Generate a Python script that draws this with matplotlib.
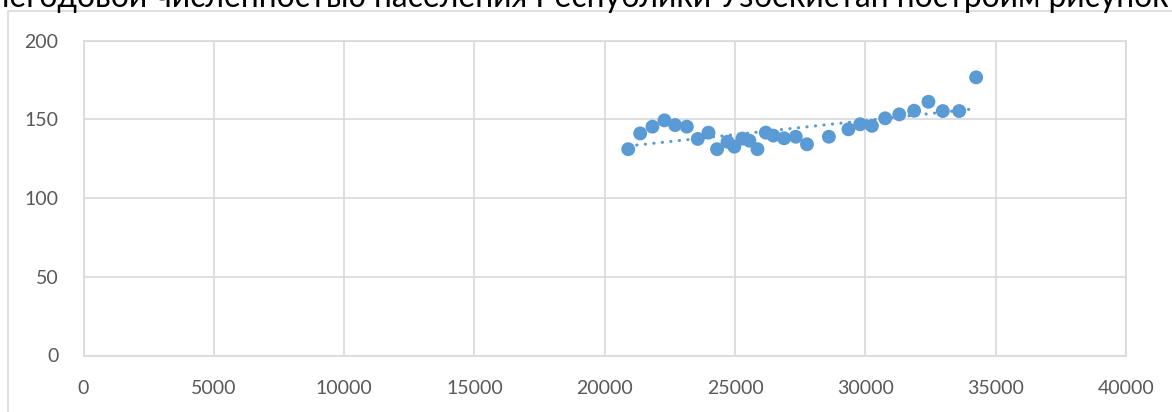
import numpy as np
import matplotlib.pyplot as plt
from matplotlib.patches import Rectangle

# population (thousand) vs value
population = [20900, 21360, 21830, 22290, 22700, 23150, 23570, 23980, 24310, 24710,
              24970, 25280, 25550, 25860, 26180, 26470, 26880, 27330, 27760, 28600,
              29350, 29800, 30250, 30760, 31300, 31870, 32420, 32970, 33600, 34250]
values = [131.0, 141.0, 145.3, 149.3, 146.3, 145.3, 137.5, 141.5, 131.0, 135.7,
          132.6, 137.7, 136.4, 131.0, 141.5, 139.6, 137.9, 138.9, 134.1, 138.9,
          143.6, 146.8, 145.8, 150.6, 153.1, 155.4, 161.1, 155.2, 155.2, 176.6]
x_ticks = [0, 5000, 10000, 15000, 20000, 25000, 30000, 35000, 40000]
y_ticks = [0, 50, 100, 150, 200]
caption = "среднегодовой численностью населения Республики Узбекистан построим рисунок"

W, H = 1172, 412
blue = "#5B9BD5"
grid = "#D9D9D9"
label = "#595959"

fig = plt.figure(figsize=(W / 100, H / 100), dpi=100)
renderer = fig.canvas.get_renderer()

# outer chart frame (cut off at right and bottom)
fig.patches.append(Rectangle((8 / W, -0.1), 1.2, (H - 11) / H + 0.1,
                             transform=fig.transFigure, fill=False,
                             edgecolor=grid, linewidth=1.2))


# page text above the chart, clipped at the top;
# size it so "численностью" starts near x=155 and "рисунок" near x=1047
def text_width(s, fs):
    t = fig.text(0, 0, s, fontsize=fs, family="Lato")
    w = t.get_window_extent(renderer).width
    t.remove()
    return w


fs = 23
w_pre = text_width("среднегодовой ", fs)
w_mid = text_width("среднегодовой численностью населения Республики Узбекистан построим ", fs)
scale = 892 / (w_mid - w_pre)
fs = fs * scale
x0 = 155 - w_pre * scale
fig.text(x0 / W, (H - 7) / H, caption, fontsize=fs, family="Lato",
         color="black", va="baseline", ha="left")

ax = fig.add_axes([83.5 / W, (H - 355.5) / H, (1126 - 83.5) / W, (355.5 - 40.5) / H])

xs = np.array(population, dtype=float)
ys = np.array(values, dtype=float)
k, b = np.polyfit(xs, ys, 1)
xt = np.array([xs.min(), xs.max()])
ax.plot(xt, k * xt + b, color=blue, linewidth=2.2,
        linestyle=(0, (0.1, 2.7)), dash_capstyle="round", zorder=2)
ax.scatter(xs, ys, s=100, color=blue, edgecolors="none", zorder=3)

ax.set_xlim(0, 40000)
ax.set_ylim(0, 200)
ax.set_xticks(x_ticks)
ax.set_yticks(y_ticks)
ax.grid(True, color=grid, linewidth=1.2)
ax.set_axisbelow(True)
for s in ax.spines.values():
    s.set_color(grid)
    s.set_linewidth(1.2)
ax.tick_params(length=0, labelsize=14, labelcolor=label, pad=18)
for t in ax.get_xticklabels() + ax.get_yticklabels():
    t.set_family("Lato")

fig.savefig("out.png", dpi=100)
